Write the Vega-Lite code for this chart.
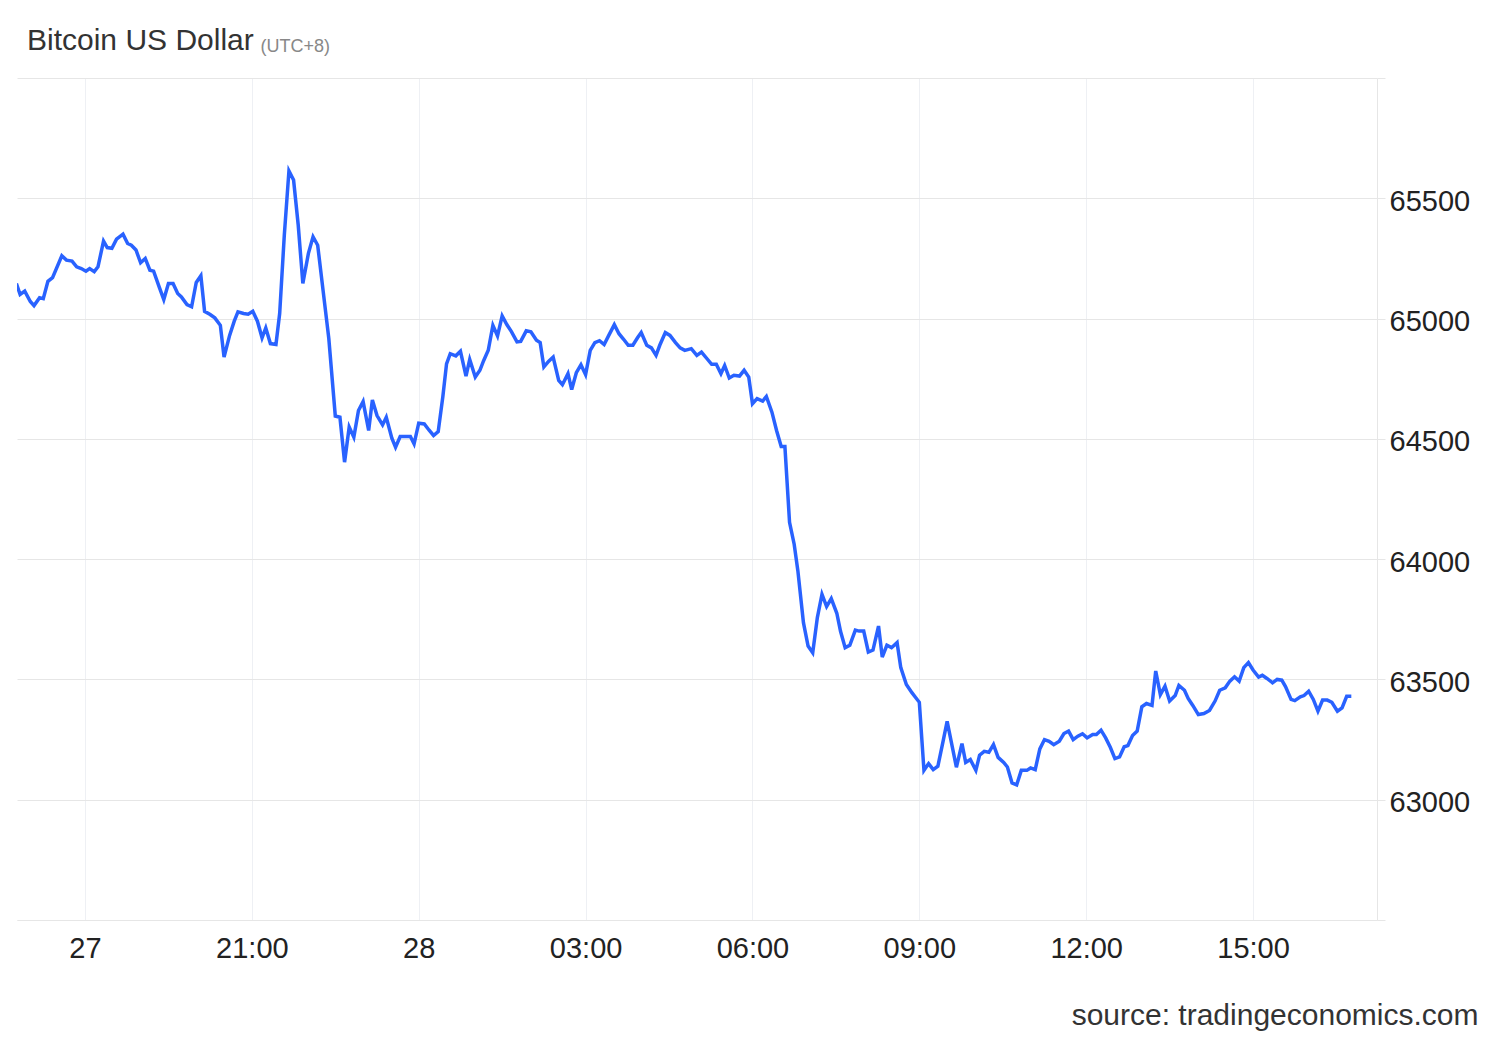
{
  "$schema": "https://vega.github.io/schema/vega-lite/v6.json",
  "width": 1360,
  "height": 842,
  "autosize": {"type": "none"},
  "padding": {"left": 17, "top": 78, "right": 123, "bottom": 120},
  "background": "white",
  "config": {"view": {"stroke": null}, "font": "Liberation Sans"},
  "title": {
    "text": "Bitcoin US Dollar",
    "anchor": "start",
    "dx": 10,
    "offset": -43,
    "baseline": "alphabetic",
    "fontSize": 30,
    "fontWeight": "normal",
    "font": "Liberation Sans",
    "color": "#333333"
  },
  "data": {
    "values": [
      {"t": "2024-02-27T16:46", "v": 65146}, {"t": "2024-02-27T16:50", "v": 65100}, {"t": "2024-02-27T16:55", "v": 65114},
      {"t": "2024-02-27T17:01", "v": 65071}, {"t": "2024-02-27T17:05", "v": 65054}, {"t": "2024-02-27T17:11", "v": 65087},
      {"t": "2024-02-27T17:15", "v": 65083}, {"t": "2024-02-27T17:20", "v": 65155}, {"t": "2024-02-27T17:25", "v": 65170},
      {"t": "2024-02-27T17:35", "v": 65261}, {"t": "2024-02-27T17:40", "v": 65243}, {"t": "2024-02-27T17:46", "v": 65239},
      {"t": "2024-02-27T17:51", "v": 65215}, {"t": "2024-02-27T17:56", "v": 65208}, {"t": "2024-02-27T18:01", "v": 65197},
      {"t": "2024-02-27T18:05", "v": 65208}, {"t": "2024-02-27T18:10", "v": 65195}, {"t": "2024-02-27T18:14", "v": 65215},
      {"t": "2024-02-27T18:20", "v": 65322}, {"t": "2024-02-27T18:24", "v": 65295}, {"t": "2024-02-27T18:29", "v": 65292},
      {"t": "2024-02-27T18:34", "v": 65330}, {"t": "2024-02-27T18:41", "v": 65351}, {"t": "2024-02-27T18:46", "v": 65312},
      {"t": "2024-02-27T18:50", "v": 65305}, {"t": "2024-02-27T18:55", "v": 65285}, {"t": "2024-02-27T19:00", "v": 65232},
      {"t": "2024-02-27T19:05", "v": 65250}, {"t": "2024-02-27T19:10", "v": 65201}, {"t": "2024-02-27T19:14", "v": 65197},
      {"t": "2024-02-27T19:20", "v": 65132}, {"t": "2024-02-27T19:25", "v": 65079}, {"t": "2024-02-27T19:30", "v": 65146},
      {"t": "2024-02-27T19:35", "v": 65146}, {"t": "2024-02-27T19:40", "v": 65104}, {"t": "2024-02-27T19:44", "v": 65090},
      {"t": "2024-02-27T19:50", "v": 65058}, {"t": "2024-02-27T19:55", "v": 65049}, {"t": "2024-02-27T20:00", "v": 65150},
      {"t": "2024-02-27T20:05", "v": 65178}, {"t": "2024-02-27T20:09", "v": 65030}, {"t": "2024-02-27T20:15", "v": 65017},
      {"t": "2024-02-27T20:20", "v": 65003}, {"t": "2024-02-27T20:26", "v": 64972}, {"t": "2024-02-27T20:30", "v": 64840},
      {"t": "2024-02-27T20:36", "v": 64930}, {"t": "2024-02-27T20:41", "v": 64989}, {"t": "2024-02-27T20:45", "v": 65028},
      {"t": "2024-02-27T20:51", "v": 65021}, {"t": "2024-02-27T20:56", "v": 65018}, {"t": "2024-02-27T21:01", "v": 65030},
      {"t": "2024-02-27T21:06", "v": 64989}, {"t": "2024-02-27T21:11", "v": 64920}, {"t": "2024-02-27T21:15", "v": 64961},
      {"t": "2024-02-27T21:20", "v": 64896}, {"t": "2024-02-27T21:26", "v": 64892}, {"t": "2024-02-27T21:30", "v": 65021},
      {"t": "2024-02-27T21:35", "v": 65347}, {"t": "2024-02-27T21:40", "v": 65614}, {"t": "2024-02-27T21:45", "v": 65576},
      {"t": "2024-02-27T21:50", "v": 65389}, {"t": "2024-02-27T21:55", "v": 65146}, {"t": "2024-02-27T22:01", "v": 65271},
      {"t": "2024-02-27T22:06", "v": 65340}, {"t": "2024-02-27T22:11", "v": 65305}, {"t": "2024-02-27T22:17", "v": 65111},
      {"t": "2024-02-27T22:23", "v": 64917}, {"t": "2024-02-27T22:30", "v": 64595}, {"t": "2024-02-27T22:35", "v": 64590},
      {"t": "2024-02-27T22:40", "v": 64403}, {"t": "2024-02-27T22:45", "v": 64549}, {"t": "2024-02-27T22:50", "v": 64507},
      {"t": "2024-02-27T22:55", "v": 64618}, {"t": "2024-02-27T23:00", "v": 64655}, {"t": "2024-02-27T23:06", "v": 64535},
      {"t": "2024-02-27T23:10", "v": 64662}, {"t": "2024-02-27T23:15", "v": 64597}, {"t": "2024-02-27T23:21", "v": 64558},
      {"t": "2024-02-27T23:25", "v": 64590}, {"t": "2024-02-27T23:31", "v": 64503}, {"t": "2024-02-27T23:35", "v": 64465},
      {"t": "2024-02-27T23:40", "v": 64510}, {"t": "2024-02-27T23:46", "v": 64510}, {"t": "2024-02-27T23:51", "v": 64510},
      {"t": "2024-02-27T23:55", "v": 64479}, {"t": "2024-02-28T00:00", "v": 64565}, {"t": "2024-02-28T00:06", "v": 64562},
      {"t": "2024-02-28T00:11", "v": 64537}, {"t": "2024-02-28T00:16", "v": 64514}, {"t": "2024-02-28T00:21", "v": 64530},
      {"t": "2024-02-28T00:26", "v": 64675}, {"t": "2024-02-28T00:30", "v": 64812}, {"t": "2024-02-28T00:34", "v": 64854},
      {"t": "2024-02-28T00:40", "v": 64845}, {"t": "2024-02-28T00:45", "v": 64864}, {"t": "2024-02-28T00:51", "v": 64761},
      {"t": "2024-02-28T00:55", "v": 64830}, {"t": "2024-02-28T01:01", "v": 64757}, {"t": "2024-02-28T01:06", "v": 64785},
      {"t": "2024-02-28T01:10", "v": 64825}, {"t": "2024-02-28T01:15", "v": 64868}, {"t": "2024-02-28T01:20", "v": 64972},
      {"t": "2024-02-28T01:25", "v": 64928}, {"t": "2024-02-28T01:30", "v": 65011}, {"t": "2024-02-28T01:35", "v": 64975},
      {"t": "2024-02-28T01:40", "v": 64946}, {"t": "2024-02-28T01:46", "v": 64903}, {"t": "2024-02-28T01:50", "v": 64905},
      {"t": "2024-02-28T01:56", "v": 64949}, {"t": "2024-02-28T02:01", "v": 64945}, {"t": "2024-02-28T02:07", "v": 64910},
      {"t": "2024-02-28T02:11", "v": 64900}, {"t": "2024-02-28T02:15", "v": 64799}, {"t": "2024-02-28T02:20", "v": 64822},
      {"t": "2024-02-28T02:25", "v": 64840}, {"t": "2024-02-28T02:31", "v": 64743}, {"t": "2024-02-28T02:35", "v": 64725},
      {"t": "2024-02-28T02:41", "v": 64771}, {"t": "2024-02-28T02:45", "v": 64705}, {"t": "2024-02-28T02:50", "v": 64775},
      {"t": "2024-02-28T02:55", "v": 64808}, {"t": "2024-02-28T03:00", "v": 64767}, {"t": "2024-02-28T03:05", "v": 64868},
      {"t": "2024-02-28T03:10", "v": 64900}, {"t": "2024-02-28T03:15", "v": 64908}, {"t": "2024-02-28T03:20", "v": 64892},
      {"t": "2024-02-28T03:25", "v": 64930}, {"t": "2024-02-28T03:31", "v": 64975}, {"t": "2024-02-28T03:36", "v": 64937},
      {"t": "2024-02-28T03:41", "v": 64914}, {"t": "2024-02-28T03:46", "v": 64889}, {"t": "2024-02-28T03:51", "v": 64889},
      {"t": "2024-02-28T03:56", "v": 64920}, {"t": "2024-02-28T04:00", "v": 64942}, {"t": "2024-02-28T04:06", "v": 64889},
      {"t": "2024-02-28T04:11", "v": 64878}, {"t": "2024-02-28T04:16", "v": 64847}, {"t": "2024-02-28T04:20", "v": 64889},
      {"t": "2024-02-28T04:26", "v": 64942}, {"t": "2024-02-28T04:31", "v": 64930}, {"t": "2024-02-28T04:37", "v": 64900},
      {"t": "2024-02-28T04:42", "v": 64878}, {"t": "2024-02-28T04:47", "v": 64868}, {"t": "2024-02-28T04:54", "v": 64875},
      {"t": "2024-02-28T05:00", "v": 64847}, {"t": "2024-02-28T05:05", "v": 64861}, {"t": "2024-02-28T05:11", "v": 64833},
      {"t": "2024-02-28T05:16", "v": 64810}, {"t": "2024-02-28T05:21", "v": 64810}, {"t": "2024-02-28T05:26", "v": 64771},
      {"t": "2024-02-28T05:30", "v": 64805}, {"t": "2024-02-28T05:35", "v": 64753}, {"t": "2024-02-28T05:40", "v": 64764},
      {"t": "2024-02-28T05:46", "v": 64761}, {"t": "2024-02-28T05:51", "v": 64785}, {"t": "2024-02-28T05:56", "v": 64757},
      {"t": "2024-02-28T06:00", "v": 64646}, {"t": "2024-02-28T06:05", "v": 64667}, {"t": "2024-02-28T06:11", "v": 64657},
      {"t": "2024-02-28T06:15", "v": 64676}, {"t": "2024-02-28T06:21", "v": 64611}, {"t": "2024-02-28T06:26", "v": 64535},
      {"t": "2024-02-28T06:31", "v": 64468}, {"t": "2024-02-28T06:35", "v": 64468}, {"t": "2024-02-28T06:40", "v": 64153},
      {"t": "2024-02-28T06:45", "v": 64062}, {"t": "2024-02-28T06:49", "v": 63951}, {"t": "2024-02-28T06:55", "v": 63736},
      {"t": "2024-02-28T07:00", "v": 63639}, {"t": "2024-02-28T07:05", "v": 63611}, {"t": "2024-02-28T07:10", "v": 63757},
      {"t": "2024-02-28T07:15", "v": 63854}, {"t": "2024-02-28T07:20", "v": 63803}, {"t": "2024-02-28T07:25", "v": 63836},
      {"t": "2024-02-28T07:31", "v": 63775}, {"t": "2024-02-28T07:35", "v": 63700}, {"t": "2024-02-28T07:40", "v": 63632},
      {"t": "2024-02-28T07:45", "v": 63642}, {"t": "2024-02-28T07:51", "v": 63705}, {"t": "2024-02-28T07:55", "v": 63701},
      {"t": "2024-02-28T08:00", "v": 63701}, {"t": "2024-02-28T08:05", "v": 63614}, {"t": "2024-02-28T08:10", "v": 63622},
      {"t": "2024-02-28T08:16", "v": 63722}, {"t": "2024-02-28T08:20", "v": 63593}, {"t": "2024-02-28T08:25", "v": 63642},
      {"t": "2024-02-28T08:30", "v": 63632}, {"t": "2024-02-28T08:36", "v": 63653}, {"t": "2024-02-28T08:40", "v": 63549},
      {"t": "2024-02-28T08:46", "v": 63479}, {"t": "2024-02-28T08:52", "v": 63445}, {"t": "2024-02-28T08:56", "v": 63425},
      {"t": "2024-02-28T09:00", "v": 63405}, {"t": "2024-02-28T09:05", "v": 63122}, {"t": "2024-02-28T09:10", "v": 63150},
      {"t": "2024-02-28T09:15", "v": 63125}, {"t": "2024-02-28T09:20", "v": 63139}, {"t": "2024-02-28T09:26", "v": 63250},
      {"t": "2024-02-28T09:30", "v": 63326}, {"t": "2024-02-28T09:36", "v": 63211}, {"t": "2024-02-28T09:40", "v": 63135},
      {"t": "2024-02-28T09:46", "v": 63233}, {"t": "2024-02-28T09:50", "v": 63155}, {"t": "2024-02-28T09:55", "v": 63167},
      {"t": "2024-02-28T10:01", "v": 63122}, {"t": "2024-02-28T10:05", "v": 63185}, {"t": "2024-02-28T10:10", "v": 63201},
      {"t": "2024-02-28T10:15", "v": 63197}, {"t": "2024-02-28T10:20", "v": 63229}, {"t": "2024-02-28T10:25", "v": 63176},
      {"t": "2024-02-28T10:31", "v": 63155}, {"t": "2024-02-28T10:35", "v": 63136}, {"t": "2024-02-28T10:40", "v": 63070},
      {"t": "2024-02-28T10:45", "v": 63062}, {"t": "2024-02-28T10:50", "v": 63122}, {"t": "2024-02-28T10:56", "v": 63122},
      {"t": "2024-02-28T11:00", "v": 63132}, {"t": "2024-02-28T11:05", "v": 63125}, {"t": "2024-02-28T11:10", "v": 63211},
      {"t": "2024-02-28T11:15", "v": 63250}, {"t": "2024-02-28T11:20", "v": 63243}, {"t": "2024-02-28T11:25", "v": 63229},
      {"t": "2024-02-28T11:31", "v": 63243}, {"t": "2024-02-28T11:36", "v": 63275}, {"t": "2024-02-28T11:41", "v": 63285},
      {"t": "2024-02-28T11:46", "v": 63250}, {"t": "2024-02-28T11:51", "v": 63264}, {"t": "2024-02-28T11:56", "v": 63274},
      {"t": "2024-02-28T12:01", "v": 63257}, {"t": "2024-02-28T12:07", "v": 63271}, {"t": "2024-02-28T12:11", "v": 63271},
      {"t": "2024-02-28T12:16", "v": 63289}, {"t": "2024-02-28T12:21", "v": 63257}, {"t": "2024-02-28T12:26", "v": 63218},
      {"t": "2024-02-28T12:31", "v": 63171}, {"t": "2024-02-28T12:36", "v": 63178}, {"t": "2024-02-28T12:41", "v": 63220},
      {"t": "2024-02-28T12:45", "v": 63225}, {"t": "2024-02-28T12:50", "v": 63267}, {"t": "2024-02-28T12:55", "v": 63285},
      {"t": "2024-02-28T13:00", "v": 63386}, {"t": "2024-02-28T13:05", "v": 63400}, {"t": "2024-02-28T13:11", "v": 63392},
      {"t": "2024-02-28T13:15", "v": 63535}, {"t": "2024-02-28T13:20", "v": 63437}, {"t": "2024-02-28T13:25", "v": 63472},
      {"t": "2024-02-28T13:30", "v": 63410}, {"t": "2024-02-28T13:36", "v": 63433}, {"t": "2024-02-28T13:40", "v": 63475},
      {"t": "2024-02-28T13:46", "v": 63455}, {"t": "2024-02-28T13:50", "v": 63421}, {"t": "2024-02-28T13:55", "v": 63392},
      {"t": "2024-02-28T14:01", "v": 63354}, {"t": "2024-02-28T14:07", "v": 63358}, {"t": "2024-02-28T14:13", "v": 63371},
      {"t": "2024-02-28T14:19", "v": 63410}, {"t": "2024-02-28T14:24", "v": 63455}, {"t": "2024-02-28T14:30", "v": 63465},
      {"t": "2024-02-28T14:35", "v": 63493}, {"t": "2024-02-28T14:40", "v": 63511}, {"t": "2024-02-28T14:45", "v": 63493},
      {"t": "2024-02-28T14:50", "v": 63549}, {"t": "2024-02-28T14:55", "v": 63570}, {"t": "2024-02-28T15:00", "v": 63539},
      {"t": "2024-02-28T15:06", "v": 63510}, {"t": "2024-02-28T15:10", "v": 63517}, {"t": "2024-02-28T15:15", "v": 63504},
      {"t": "2024-02-28T15:21", "v": 63486}, {"t": "2024-02-28T15:26", "v": 63500}, {"t": "2024-02-28T15:31", "v": 63497},
      {"t": "2024-02-28T15:35", "v": 63470}, {"t": "2024-02-28T15:41", "v": 63417}, {"t": "2024-02-28T15:45", "v": 63412},
      {"t": "2024-02-28T15:51", "v": 63428}, {"t": "2024-02-28T15:55", "v": 63433}, {"t": "2024-02-28T16:00", "v": 63451},
      {"t": "2024-02-28T16:05", "v": 63417}, {"t": "2024-02-28T16:10", "v": 63368}, {"t": "2024-02-28T16:15", "v": 63414},
      {"t": "2024-02-28T16:20", "v": 63414}, {"t": "2024-02-28T16:25", "v": 63405}, {"t": "2024-02-28T16:31", "v": 63368},
      {"t": "2024-02-28T16:36", "v": 63382}, {"t": "2024-02-28T16:41", "v": 63430}, {"t": "2024-02-28T16:46", "v": 63430}
    ]
  },
  "mark": {"type": "line", "color": "#2962ff", "strokeWidth": 3.5, "clip": true},
  "encoding": {
    "x": {
      "field": "t",
      "type": "temporal",
      "scale": {
        "domain": [
          {"year": 2024, "month": 2, "date": 27, "hours": 16, "minutes": 46, "seconds": 39},
          {"year": 2024, "month": 2, "date": 28, "hours": 17, "minutes": 13, "seconds": 42}
        ]
      },
      "axis": {
        "orient": "bottom",
        "values": [
          {"year": 2024, "month": 2, "date": 27, "hours": 18},
          {"year": 2024, "month": 2, "date": 27, "hours": 21},
          {"year": 2024, "month": 2, "date": 28, "hours": 0},
          {"year": 2024, "month": 2, "date": 28, "hours": 3},
          {"year": 2024, "month": 2, "date": 28, "hours": 6},
          {"year": 2024, "month": 2, "date": 28, "hours": 9},
          {"year": 2024, "month": 2, "date": 28, "hours": 12},
          {"year": 2024, "month": 2, "date": 28, "hours": 15}
        ],
        "labelExpr": "hours(datum.value) == 18 ? '27' : (hours(datum.value) == 0 ? '28' : timeFormat(datum.value, '%H:%M'))",
        "grid": true,
        "gridColor": "#eef0f4",
        "gridWidth": 1,
        "domain": true,
        "domainColor": "#e6e6e6",
        "domainWidth": 1,
        "ticks": false,
        "labelPadding": 37,
        "labelBaseline": "alphabetic",
        "labelFontSize": 29,
        "labelFont": "Liberation Sans",
        "labelColor": "#222222",
        "labelAngle": 0,
        "labelOverlap": false,
        "labelFlush": false,
        "title": "source: tradingeconomics.com",
        "titleX": 1461,
        "titleY": 104,
        "titleAlign": "right",
        "titleBaseline": "alphabetic",
        "titleFontSize": 30,
        "titleFont": "Liberation Sans",
        "titleFontWeight": "normal",
        "titleColor": "#333333"
      }
    },
    "y": {
      "field": "v",
      "type": "quantitative",
      "scale": {"domain": [62500, 66000], "zero": false, "nice": false},
      "axis": {
        "orient": "right",
        "values": [62500, 63000, 63500, 64000, 64500, 65000, 65500, 66000],
        "format": "d",
        "labelExpr": "datum.value == 62500 || datum.value == 66000 ? '' : datum.label",
        "grid": true,
        "gridColor": "#e6e6e6",
        "gridWidth": 1,
        "domain": true,
        "domainColor": "#e6e6e6",
        "ticks": true,
        "tickColor": "#e6e6e6",
        "tickSize": 8,
        "labelPadding": 4,
        "labelOffset": 3,
        "labelFontSize": 29,
        "labelFont": "Liberation Sans",
        "labelColor": "#222222",
        "title": "(UTC+8)",
        "titleX": -1117,
        "titleY": -27,
        "titleAngle": 0,
        "titleAlign": "left",
        "titleBaseline": "alphabetic",
        "titleFontSize": 18,
        "titleFont": "Liberation Sans",
        "titleFontWeight": "normal",
        "titleColor": "#888888"
      }
    }
  }
}
